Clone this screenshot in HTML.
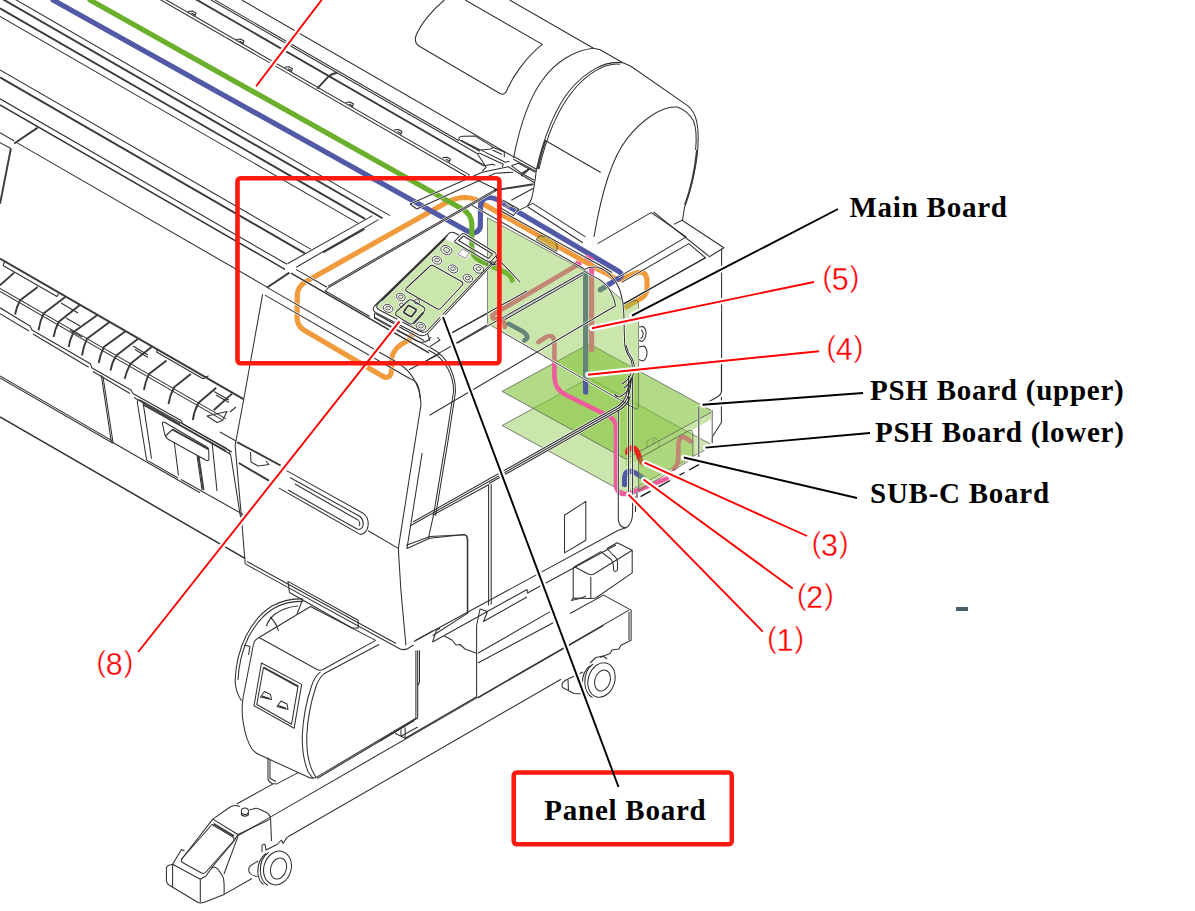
<!DOCTYPE html>
<html>
<head>
<meta charset="utf-8">
<title>Board layout</title>
<style>
html,body{margin:0;padding:0;background:#fff;}
body{width:1195px;height:911px;overflow:hidden;position:relative;}
svg{position:absolute;left:0;top:0;display:block;}
.lbl{font-family:"Liberation Serif",serif;font-weight:bold;font-size:29px;fill:#000;letter-spacing:0.75px;}
.num{font-family:"Liberation Sans",sans-serif;font-size:30px;fill:#ff0000;stroke:#fff;stroke-width:0.55px;}
.num .d{font-size:30.5px;stroke-width:0.3px;}
.art{fill:none;stroke:#303030;stroke-width:1.05;stroke-linecap:butt;stroke-linejoin:round;}
.art .t{stroke-width:1.9;stroke:#3a3a3a;}
.art .w{fill:#fff;}
.hal{fill:none;stroke-linecap:butt;stroke-linejoin:round;}
.hal *{stroke:#fff !important;stroke-width:2.2px !important;fill:none !important;}
.hal .t{stroke-width:3.1px !important;}
.cab{fill:none;stroke-width:5.2;stroke-linecap:round;stroke-linejoin:round;}
.halo{fill:none;stroke:#fff;stroke-width:6;stroke-linecap:round;}
.red{fill:none;stroke:#ff0000;stroke-width:1.9;}
.blk{fill:none;stroke:#000;stroke-width:1.9;}
</style>
</head>
<body>
<svg width="1195" height="911" viewBox="0 0 1195 911">
<rect x="0" y="0" width="1195" height="911" fill="#ffffff"/>
<!-- PSH boards (horizontal) -->
<g fill="#84c43c" stroke="#565a52" stroke-opacity="0.85" stroke-width="0.9" transform="translate(-1,1.1)">
<path fill-opacity="0.42" d="M503.1 424.4 L590.2 376.8 L713.9 444.4 L626.8 492.1 Z"/>
<path fill-opacity="0.45" stroke="none" d="M626.8 458 L713.9 410.3 L713.9 417.5 L626.8 465.5 Z"/>
<path fill-opacity="0.62" d="M503.1 390.3 L590.2 342.7 L713.9 410.3 L626.8 458 Z"/>
<path fill="none" stroke-opacity="0.5" stroke-width="0.7" d="M648 440 L655 436.5 L660 439.5 M648 440 L648 447 M655 436.5 L655 443 M660 439.5 L660 446"/>
</g>
<!-- Panel board fill -->
<g stroke="none">
<path fill="#82c33c" fill-opacity="0.42" d="M445.7 239.5 L494.5 261.5 L427 332.5 Q424.5 334 421.5 332.5 L378.5 308.5 Q376.5 306.5 378 304.5 Z"/>
<path fill="#fff" d="M455 240.8 L461.8 234 Q463 233 465 234 L495 252.5 Q497 254.5 495.9 256 L491 261.5 Q489.5 262.5 487.5 261.5 L456 243 Q454 242 455 240.8 Z"/>
<path fill="#fff" d="M462.4 248.8 L469.8 252.8 L465.1 258.2 L457.7 254.1 Z"/>
</g>
<g class="cab">
<!-- orange -->
<path stroke="#f19b3d" d="M413 333 L409 340 Q398 345.5 395 350.5 Q391.5 355 391.5 362 L391.5 371 Q390.5 379.5 383 376.5 L303 329.5 Q297.5 325.5 297 318 L297.3 294 Q298 286 306.5 281.2 L446 202.7 Q455 197.5 466 197.5 Q476.5 198 484.5 204.8 L596.2 268.1 L610.3 275.5 Q616.5 281 622 279 L635.4 273.2 Q646 269.5 647 280 L647 289.2 Q646.5 295.5 640 299 L625.4 307.3"/>
<!-- blue -->
<path stroke="#5259a7" d="M53 0 L467.1 230.9 Q477 236 480.3 227 L480.5 207 Q480.8 197.6 489 197.5 Q493.5 197.5 497.5 199.8 L618.5 271.2 Q624 274.5 620 277.5 L600.3 289.7"/>
<!-- green -->
<path stroke="#6ab02c" d="M90 0 L463.1 209.5 Q471.5 214.5 471.8 224 L471.8 247 Q472 256.5 480 260.5 L505.6 272.6 Q511.5 276 512.2 280.3"/>
<!-- pink (5)/(4) group -->
<path stroke="#ee5c9d" stroke-linecap="butt" d="M585.5 256.5 L592.8 260.5"/>
<path stroke="#ee5c9d" stroke-linecap="butt" stroke-width="3.5" d="M575.3 262 L581 265"/>
<path stroke="#ee5c9d" d="M591.6 270 L591.6 349.4"/>
<path stroke="#ee5c9d" stroke-width="4.8" d="M579 264 L495.1 313.3 Q490 316.5 494.5 318.8 L500 319.5 Q504.9 320.5 504.9 326.8"/>
<!-- blue (4) vertical -->
<path stroke="#5259a7" d="M585.6 273 L585.6 392"/>
<path stroke="#5259a7" stroke-width="2.6" d="M582.4 274.1 L504 317.5"/>
<path stroke="#5259a7" stroke-width="4.6" d="M508.6 323.8 L522 331 Q528 334.5 527.2 338 L524.4 340.4"/>
<!-- pink (1) -->
<path stroke="#ee5c9d" stroke-width="4.6" d="M538.4 342 L546.2 337 Q553.7 333.5 554.4 342 L554.4 376.8 Q555 389.5 565.5 394.8 L608 415.8 Q615.8 419.5 616 428 L616 484.6 Q616.5 494 625 494 Q628.5 494 632 492.6 L666.7 478.6"/>
<!-- pink on sub-c -->
<path stroke="#ee5c9d" stroke-width="4.6" d="M673.8 468.6 Q677.8 465 678 460.5 L678.5 443 Q679.5 436 684.5 437.2 L690.8 441.5"/>
<!-- red (3) hook -->
<path stroke="#e8251c" d="M627.6 452.5 Q628 447.5 632.5 447.6 Q637.5 448.5 639.6 458.5 Q640.5 461.5 643.6 463.6"/>
<!-- blue (2) hook -->
<path stroke="#5259a7" d="M624.6 484.6 L624.6 477.5 Q625 471 631 471.2 Q635.5 472 643.6 478.6"/>
</g>
<!-- Main board overlay + SUB-C -->
<g fill="#82c33c" fill-opacity="0.42" stroke="#565a52" stroke-opacity="0.8" stroke-width="0.9">
<path d="M487.5 217.7 L585 271 Q600 279.5 608 287.5 Q616.5 295 621.5 299.5 L624 304 L634 300.5 Q638.4 299.5 638.6 304 L638.6 406.5 Q638 410.5 634.5 408.5 L487.5 323.4 Z"/>
<path d="M638.6 458.5 L688 431 Q692.9 428.6 692.9 434 L692.9 458.5 L638.6 490.7 Z"/>
</g>
<!-- clamp on orange cable -->
<path fill="#c9a83a" fill-opacity="0.75" stroke="#3a3a3a" stroke-width="0.8" d="M536.3 239.8 Q538.5 234.3 543 236.3 Q545.5 234.8 548.5 238 Q551.5 237.3 554 241.3 Q558.3 243 557 250 L556.5 251.5 Z"/>
<g class="hal">
<path d="M0.0 -9.4 L390.0 215.6"/>
<path class="t" d="M0.0 -2.4 L382.5 218.3"/>
<path class="t" d="M0.0 8.3 L365.0 218.9"/>
<path d="M0.0 16.5 L358.0 223.1"/>
<path d="M0.0 70.0 L311.0 249.4"/>
<path class="t" d="M0.0 77.4 L305.0 253.4"/>
<path d="M0.0 98.8 L287.0 264.3"/>
<path stroke-width="1.4" d="M0.0 104.9 L285.0 269.3"/>
<path d="M287.5 263.8 L372.5 215.6"/>
<path d="M296.2 267.2 L378.5 219.6"/>
<path class="t" d="M323 252.4 L364.5 229"/>
<path d="M241.8 0.0 L514.0 157.1"/>
<path d="M215.0 0.1 L459.0 140.8"/>
<path d="M211.0 0.0 L477.5 153.8"/>
<path class="t" d="M195.7 -0.8 L484.2 165.7"/>
<path d="M165.0 -0.8 L469.5 174.9"/>
<path d="M158.6 -1.3 L467.0 176.7"/>
<path class="t" d="M317.2 88.7 L328.9 76.2 Q332 73.5 337.2 72.8"/>
<path d="M236 39.5 L240.5 39 L244 41 L242.5 44.5 M239.5 41 L243 43"/>
<path d="M284.5 67.3 L289 66.8 L292.5 68.8 L291 72.3 M288 68.8 L291.5 70.8"/>
<path d="M345.6 102.5 L350 102 L353.5 104 L352 107.5 M349 104 L352.5 106"/>
<path d="M394 130 L398.5 129.5 L402 131.5 L400.5 135 M397.5 131.5 L401 133.5"/>
<path d="M442.5 157.8 L447 157.3 L450.5 159.3 L449 162.8 M446 159.3 L449.5 161.3"/>
<path d="M96 -40 L100 -41"/>
<path d="M188 11.5 L192.5 11 L196 13 L194.5 16.5 M191.5 13 L195 15"/>
<path d="M459.1 139.6 L459.1 137.6 Q460 136.5 463 136.3 L475.2 136.1 L492.3 146.6 Q493.5 148 490.3 149.1 L481.2 150.1 Z"/>
<path class="t" d="M461 140.5 L480 151"/>
<path d="M481.2 150.1 L505.3 162.2 L509.5 161.2"/>
<path d="M492.3 147.1 L504.3 152.1 L504.3 157.2"/>
<path d="M479.2 153.1 L503.3 164.2 L502.3 167.2"/>
<path d="M477.5 154 L479.2 153.1 M477.5 154 L486.2 167.2 L482.2 171.2"/>
<path d="M484.2 165.7 L492.3 164.2 L495.3 165.2"/>
<path d="M492.5 150 L502 154.5"/>
<path d="M513.3 156.2 L536.4 169.2 M513.3 159.2 L536.4 171.4"/>
<path d="M511.3 165.7 L518.4 163.2 L535.4 172.2 M511.3 165.7 L521.4 173.2 L530.4 168.2 M521.4 173.2 L534.4 180.3 M521.4 173.2 L521.8 176.5"/>
<path class="t" d="M523.5 173.8 L529.5 168.5"/>
<path d="M410.1 204 L482.2 172.2 L508.3 166.7 L534.4 182.8"/>
<path d="M416.8 209 L495.3 173.2 L513.3 172.2"/>
<path d="M410.1 204 L416.8 209"/>
<path class="t" d="M494.3 190.3 L533.4 184.3"/>
<path d="M511.3 200.3 L533.4 188.3"/>
<path d="M468.2 175.7 L496.3 189.3"/>
</g>
<g class="hal">
<path d="M444.4 0 C432 10 420 25 415.9 36 Q414 42.5 418.5 45.7 L500 93.5 Q504.5 95.5 506.5 91 C512 78 525 58 542.3 44.4 L465.3 0"/>
<path d="M509.6 0 L593.5 48.2 Q597 49 600.2 49.7 L622.8 62.8 Q628 64.5 632 67 L687.2 105.4 Q694.5 111 696.8 122 Q699.5 134 697 157 Q693 185 684.5 207.5 L682.5 220"/>
<path d="M593.5 48.2 C575 50 555 62 542.3 80.3 C530 97 520 125 513.5 158"/>
<path d="M622.8 62.8 C605 60 585 72 570 90 C555 108 543 140 536.5 169 Q534 190 531.5 199 Q530 203 527.3 206"/>
<path d="M620 64.2 C604 62.5 586 74.5 572 92 C557 111 545.5 141 539 169"/>
<path class="t" d="M545.2 141 Q540 156 537.7 169"/>
<path d="M677.2 107.1 C660 106 640 122 626.9 138.9 C612 158 601 195 594 237"/>
<path d="M677.2 107.1 Q688 111 693.5 121 Q697.5 131 695.6 150"/>
<path class="t" d="M697 150 Q694 180 685 205"/>
<path d="M544.9 140.3 L600.8 172.5"/>
<path d="M597.6 243.6 L651.1 212.6 L686.3 236.9 L618.5 277.1"/>
<path d="M653.5 212 L708.9 256.2"/>
<path d="M673.7 224.4 L682.1 220.2 L723.9 247.8 L708.9 257"/>
<path d="M621.8 282.4 L688.8 243.6 L705.5 257.8 L623.5 303.8"/>
<path d="M721.6 248.6 L721.6 392"/>
</g>
<g class="hal">
<path d="M0 132.6 L14.2 141"/>
<path d="M0 142.7 L10.9 148.5"/>
<path class="t" d="M14.2 143.5 L37.7 127.6"/>
<path class="t" d="M10.9 148.5 L0 203.8"/>
<path d="M16.7 142.6 L268.0 287.6"/>
<path class="t" d="M0.0 258.6 L243.5 399.1"/>
<path d="M3 265.5 L57 296.5 L58.5 293.5"/>
<path d="M3 265.5 L4.5 262"/>
<path d="M156.5 352 L203 378.8 L208.5 375.8"/>
<path d="M156.5 352 L158 349"/>
<path d="M0.0 288.5 L226.0 418.9"/>
<path d="M0.0 291.5 L222.0 419.6"/>
<path d="M0 307.8 L30 326 L32 330 L90.4 363.8 L92 368 L131 390 L133 393.5 L181 420.5 L183 424 L232 452"/>
<path d="M0 313.6 L29 331 M33 334 L88.7 367.2 M93 371.5 L130 393.5 M134 397.5 L180 424 M185 428 L230 454"/>
<path class="t" d="M14.2 272.6 L0 285.2"/>
<path class="t" d="M37.7 286.9 L20.1 300.3 Q16.5 307 15.1 314.5"/>
<path class="t" d="M65.3 296.9 L43.5 313.6 Q40 321 38.5 330.4"/>
<path class="t" d="M79.5 305.3 L58.6 322 Q55 329 53.6 337"/>
<path class="t" d="M97.1 315.3 L73.6 332 Q70 339 68.6 347.1"/>
<path class="t" d="M109.6 322 L87 338.7 Q83.5 346 82 355.5"/>
<path class="t" d="M125.5 331.2 L103.8 347.1 Q100 355 98.7 363"/>
<path class="t" d="M138.1 338.7 L116.3 355.5 Q112 362 110.5 370.5"/>
<path class="t" d="M151.5 347.1 L130.5 363.8 Q126.5 371 124.7 378.9"/>
<path class="t" d="M166.5 360.5 L149 373.9 Q145.5 381 143.9 390"/>
<path class="t" d="M190.8 373.9 L174.1 387.3 Q170 395 168.5 404"/>
<path class="t" d="M216.2 387.7 L198.6 402.7 Q194 411 192.8 420"/>
<path class="t" d="M232.1 393.6 L213.7 410.3"/>
<path d="M61 303 L78 313 M66 318 L80 326 M70 330 L82 337"/>
<path d="M133 346 L148 355 M135 349.5 L148 357.5"/>
<path d="M214 391.5 L229 400 M216 395 L229 402.5"/>
<path d="M207 416 L227 411.5 L222.5 420.5 L217 422.5 Z"/>
<path d="M230 412 L236 407"/>
<path d="M0.0 376.0 L112.0 440.6"/>
<path d="M0.0 378.0 L113.0 443.2"/>
<path d="M112.0 442.0 L200.0 492.8"/>
<path stroke-width="1.5" d="M0.0 416.9 L245.0 558.3"/>
<path d="M101.3 375.1 L111.3 442 M103 376.5 L113 442.5"/>
<path d="M140 400 Q137 399.5 137.4 403 L146.7 460.5"/>
<path d="M143.1 402.7 L151.5 458.7"/>
<path d="M140 400 L227.1 448.8 Q230 451 230.8 455.5 L240.5 517"/>
<path class="t" d="M143 404.5 L226 451"/>
<path d="M147.3 460.4 L178 478 M181 479.5 L245 515.5"/>
<path d="M164.5 422.3 Q162 421.5 162.6 424.5 L165 435.3 Q166 438 168.5 439.5 L206 460.3 Q209.2 461.5 208.9 458 L208.7 450 Q208.5 447.5 206 446.5 Z"/>
<path d="M165.5 436 L172.5 429.5 L208.7 449.5"/>
<path class="t" d="M172.5 429.5 L208 449"/>
<path d="M174.3 442.5 L178.5 475.5"/>
<path d="M197 455.4 L202 490"/>
<path class="t" d="M198.5 456 L203.5 490"/>
<path d="M212 442 L217 491"/>
<path class="t" d="M237.1 442.1 L280.6 465.5"/>
<path class="t" d="M238.8 463 L268.9 480.6"/>
<path d="M250.5 452 L251 462 L258 466 L269 464.5 L266 461"/>
</g>
<g class="hal">
<path class="t" d="M266.8 287.7 L289.4 272.6"/>
<path d="M296.0 269.4 L327.0 287.3"/>
<path stroke-width="1.4" d="M291.0 273.2 L429.0 352.8"/>
<path d="M325.4 291.0 L369.7 316.5"/>
<path d="M325 291.5 L329 287"/>
<path d="M328.0 286.1 L497.0 188.6"/>
<path d="M329.0 287.2 L497.5 189.9"/>
<path d="M268.0 287.9 L396.0 361.8 Q410 370 416 383 Q421 394 420.9 405.3 L410.3 472 L398.3 548.4"/>
<path d="M265.0 295.1 L410.0 378.8 Q420 381 419.9 398"/>
<path d="M262.6 294.4 L243.8 399 L235.1 445.4 L241.3 515.7 L245.2 563.9"/>
<path d="M428.4 350 Q441 356 447.5 368 Q454 380 453.5 392 L446 440.4 L433.4 515.7 L428.4 538.3"/>
<path d="M430 347.5 Q443.5 354 449.8 367 Q456 380 455.4 392.5 L448 441 L435.5 516"/>
<path d="M373.9 316.9 L429.1 347.1"/>
<path d="M375.5 313.5 L424 340.5"/>
<path d="M409 369.7 L440 353.8"/>
<path d="M429.1 347.1 L440 340 L437 337"/>
<path d="M429.6 415.3 L615.6 305.7"/>
<path d="M422.1 453 L407 548.4 L429.6 538.3 L464.8 534.6 Q467.3 536 467.3 540.9 L467.3 613"/>
<path d="M425.9 360.9 L487 325"/>
<path d="M451 333.2 L487 313.5"/>
<path d="M286.5 470.6 L363.1 513.2 Q369 518 368.1 525.8 Q367 533 360.6 534.6 L279 488.1"/>
<path d="M290 477.5 L360 516.5 Q364 520 363 525.5 Q361.5 530.5 357 529 L288 490"/>
<path d="M295 484 L358 520 Q361 523 359 526"/>
<path d="M368.1 530.8 L398.3 548.4"/>
<path d="M220 432 L236 441"/>
</g>
<g class="hal">
<path d="M245.2 563.9 L398.3 648 Q403 651 408 648.5 L413.5 645"/>
<path d="M247 561.5 L396 643.5"/>
<path d="M398.3 548.4 L400.9 590.2 L405.9 645.4"/>
<path d="M287.9 581.4 L358.2 620.3 L358.2 627.9 L352 628 L289.5 592.5 Z"/>
<path d="M406.3 545.3 L430.1 536.5 L464 534.8 Q467.8 535 467.8 540 L467.8 613.1 L432.6 635.7"/>
<path d="M432.6 515.2 L489 484.5"/>
<path d="M488.6 485 L488.6 605.6 M491.2 484 L491.2 604.5"/>
<path d="M415.1 640.7 L618.4 530.3"/>
<path d="M432.6 642 L527 589.5 L527.5 593 L615.9 545"/>
<path d="M432.6 642 L436.5 630 L440 628.5"/>
<path d="M618.3 410 L618.3 520.2 Q619.5 528 626 527.7"/>
<path d="M628.6 388 L628.6 497 M632.6 388 L632.6 512.7 Q632.5 524 626 527.7 L618.4 530.3"/>
<path d="M632.6 497 L635.5 497 L635.5 512"/>
<path d="M564.5 515.2 L585.8 501.4 L585.8 540.3 L564.5 552.9 Z"/>
<path d="M574.5 566.7 L600.9 551.6 M607 548.5 L617.2 542.8 L632.2 550.3 L632.2 572.9 L595.8 598 L590.8 598.5 L573.2 598 L571.5 600.5"/>
<path d="M574.5 566.7 Q573 567.5 573.2 570 L573.2 598"/>
<path d="M574.5 566.7 L588 574 Q590.8 575.4 594 574 L632.2 550.3"/>
<path d="M590.8 577 L590.8 598.5"/>
<path d="M600.9 551.6 L611 559.5 Q613.5 562 613.5 566 L613.5 570 Q615 573 617.5 570 L617.5 562 Q617 557.5 613 555 L607 548.5"/>
<path d="M476.6 625.5 L476.6 697"/>
<path d="M476.6 625.5 L480 609 L487.5 611.5 L483.5 621.5 L527 597"/>
<path d="M443.9 635.7 L452 640 L456 645 L460 644.5 L465 649 L476.6 653.3"/>
<path d="M477.8 653.3 L550.7 611.4"/>
<path d="M477.8 663 L553.2 622.7"/>
<path d="M477.8 652.8 L603.4 595.5" stroke="none"/>
<path d="M417.7 650.3 L417.7 718 M419.5 650.3 L419.5 682 L417.7 686"/>
<path d="M413.9 641.5 L432.6 631"/>
<path d="M237.0 836.3 L629.0 610.1"/>
<path d="M288.0 836.8 L561.0 679.3"/>
<path d="M477.9 698 L603.5 625.5"/>
<path d="M570 613.5 L603.5 595.1 L631.1 610.1 L631.1 640.3 L621 645.3 L619 649 L612 650 L610 653.5 L600 657.5"/>
<path d="M629 612 L629 640"/>
<path d="M571 600.5 L580 598.5 L586 596"/>
<path d="M395.1 733.2 L405.1 738.2 L476.7 696.7"/>
<path d="M401 729.5 L401 736 M405.1 727.5 L405.1 738.2"/>
<path d="M380 741 L417.7 718"/>
<ellipse cx="601.5" cy="680" rx="13.2" ry="17.6" transform="rotate(18 601.5 680)"/>
<ellipse cx="602.5" cy="680.5" rx="7.6" ry="10.8" transform="rotate(18 602.5 680.5)"/>
<path d="M593 664 Q584.5 670 584.8 683 Q585.5 694 592.5 697.5"/>
<path d="M590.5 665.5 Q582 671.5 582.3 684 Q583 693.5 588 696.5"/>
<path d="M583 672 L565 680.5 Q560.5 684 562.5 687.5 L574 693.5 L583.5 694"/>
<path d="M568 680 L568.5 690.5"/>
<path d="M590 663 L596 657.5 L603 656 L607 659"/>
</g>
<g class="hal">
<path d="M302.9 599 Q287 598 272 606 Q256 616 246 636 Q236 656 235.1 680.6 Q235.5 692 241.4 700.7"/>
<path d="M302.9 601.5 Q288 600.5 273.5 608.5 Q258.5 618 248.5 637 Q239 657 238 680"/>
<path d="M298 606 Q285 607 275 614 Q268 620 266.5 626"/>
<path d="M302.9 599 L297 614"/>
<path d="M270 617 Q276 622 278.5 631"/>
<path d="M244 645 L250 646.5 L248.5 655"/>
<path d="M259 637.5 L310.5 606.5 M310.5 606.5 L375.7 640.4"/>
<path d="M259 637.5 L317 669.5 Q320 671 323 669.5 L375.7 640.4"/>
<path d="M323.5 674 L379 644.5"/>
<path d="M259 637.5 Q255 639 253.5 644 L243 698 Q241 712 243.5 724 Q246 740 252 749 Q254.5 752.5 260 755 L308 777 Q312 779 315.8 777.6"/>
<path d="M320.5 671.8 Q315 676 311.5 686 Q303.5 710 302.3 735 Q301.8 757 308.2 772 L313.2 778.5"/>
<path d="M323.5 674 Q318.5 679 315.5 688 Q308 711 306.8 735 Q306.2 757 312 770 L316 777.5"/>
<path d="M415.9 650.5 L415.9 718.3 L315.8 777.6"/>
<path d="M414 720.8 L317 778.5"/>
<path d="M261.5 663 L301.7 684.4 L294.1 728.3 L254 705.7 Z"/>
<path d="M263.5 667.5 L298 686.3 L291.5 724.3 L256.8 704.5 Z"/>
<path class="t" d="M263.5 667.5 L298 686.3"/>
<path d="M260.5 697 L264.5 691.5 L270.5 694.5 L271.5 699.5 Z M262 696 L270 698.5"/>
<path d="M277 706.5 L281 701 L287 704 L288 709.5 Z M278.5 705.5 L286.5 708.5"/>
<path d="M268 757.6 L268 778.9 Q268.5 782 272 783.5 L276.8 783.9 L298.2 772.6"/>
<path d="M270 759 L270 778.5 L276 781.5"/>
<path d="M236.7 804 L273.1 783.9"/>
<path d="M401.1 736.2 L417.7 727"/>
<path d="M212.8 819.1 L228 808.5 Q232 805 236 805.5 L240 806.5 M249.5 810 L253 809 Q256 807.5 259 809 L266.5 812.5 Q270.5 815 270.6 819.1 L271.5 841"/>
<ellipse cx="244.9" cy="811.3" rx="3.6" ry="3.3"/>
<path d="M241.5 812.5 L241.5 815 Q245 817.5 248.3 815 L248.3 812.5"/>
<path d="M212.8 819.1 L237.9 834.5 L270.6 819.1"/>
<path d="M212.8 819.1 L181.4 859.5 M237.9 834.5 Q236 838 234 841 L211 868.5"/>
<path d="M212 824.5 L233 837 Q235 838.5 233.5 841 L205.5 872.5 Q204 874 201.5 873 L182.5 862.5 Q180.5 861 182 858.5 Z"/>
<path class="t" d="M213.5 823.8 L234 836"/>
<path d="M172.6 864.3 L181.5 849.5 L184.5 851"/>
<path d="M166.4 869.3 Q166 866 169 865.2 L172.6 864.3 L200.3 879.3 L206 876 Q212 866.5 214.5 867 Q218 868 222.9 876.8 Q224.5 880 224.1 894.4 L205 902 Q200.5 903.5 198 902.5 L169 885 Q166 883 166.4 879 Z"/>
<path d="M172.6 864.3 L172.6 887"/>
<path d="M200.3 879.3 L200.3 902.5"/>
<path d="M224.1 894.4 L252 878.5"/>
<path d="M237.9 836.6 L224 874"/>
<ellipse cx="277.5" cy="868" rx="13.6" ry="17.2" transform="rotate(18 277.5 868)"/>
<ellipse cx="278.5" cy="868.5" rx="7.8" ry="10.8" transform="rotate(18 278.5 868.5)"/>
<path d="M268.5 852.5 Q260 858 260.3 871 Q261 882 268 885.5"/>
<path d="M266 853.5 Q257.5 859.5 257.8 872 Q258.5 881.5 263.5 884.5"/>
<path d="M258 861 L250 866 Q247.5 870 250 873.5 Q252.5 876 257.5 876.5"/>
<path d="M262 852 L262 846 Q262.5 843.5 265 844.5 L266 850 L277 844.5 L281.5 840 L283 843.5"/>
<path d="M283 843.5 L287.5 836.6"/>
</g>
<g class="hal">
<path d="M583.9 269.6 Q590 266 597.5 267.3 Q606 270 611 275.6 Q617 282 620.5 292 Q623.5 302 623.8 313.3 L624.6 343.4"/>
<path d="M583.9 271.1 L600.5 280.1 Q607.5 285 611 292.2 Q614.5 299 615.6 305.7"/>
<path d="M583.5 274.6 L505 319.5"/>
<path d="M623.4 304.3 L660 283.2 L705.5 257.8"/>
<path stroke-width="0.9" d="M501.5 331.5 L634 408"/>
<path d="M532.8 203.4 L585.5 236.9"/>
<path d="M527.6 206.7 L582.8 242.7"/>
<path d="M472 205.4 L584 268.8"/>
<path d="M498 209.3 L600 265.3 L612 272.5"/>
<path d="M517.2 211.1 L532.8 203.4"/>
<path d="M498 206.5 L503.5 200.5 L518.5 209 L513.5 215.5 Z"/>
<path d="M505 205 L510 207.5 M508 203.5 L513 206.5"/>
<path d="M624.6 343.4 Q625.5 352 630 358 Q633.5 364 631.5 372 Q629 380 622 384"/>
<path d="M626 345 Q627.5 352 632 358.5 Q636 366 633 375 Q630 384 624 388"/>
<path d="M628.6 376 L628.6 388 M632.6 376 L632.6 388"/>
<path d="M410.8 525.5 L618.5 408.3 Q626 403 628.5 395 Q630.8 388 631.3 378"/>
<path d="M413 522 L617 406.8 Q624 402 626.5 394.5 Q628.5 388 629 380"/>
<path d="M489 483.5 L619.5 410 Q627.5 405 630.3 396.5"/>
<path d="M614.5 393.5 Q616 397.5 620 396.5 Q626.5 394 629.5 386.5 Q631 382 631.3 378"/>
<path d="M638.6 327 L643 326.5 Q646.5 329 646 334 Q645.5 339.5 642 341.5 L638.6 340"/>
<path d="M638.6 347 L644 346 Q647.5 349 647 354 Q646.5 359 643 361 L638.6 359.5"/>
<path d="M641 330 Q643.5 331 643 335 Q642.5 338 640.5 338.5"/>
<path d="M721.4 365 L721.4 391.8 Q721 394.5 718 396.5 L707.5 402.5"/>
<path d="M721.4 397 L721.4 422.5 L712.2 437 L712.2 443"/>
<path d="M698.8 406.9 L698.8 457.1 M700.3 406.9 Q700.5 405 702 404.5"/>
<path d="M712.2 410 L712.2 436" stroke="#666"/>
<path stroke-width="1.4" stroke="#111" d="M640.6 496.7 L650.5 491.2 M655 488.8 L670 480.5 M675 477.7 L684.5 472.5 M689 470 L698.9 464.6"/>
<path d="M637 491.5 L637 498"/>
</g>
<g class="hal" stroke-width="0.75" stroke="#3c3c3c">
<path d="M449.7 232.7 L374.5 306 Q371.5 309.5 375.5 312.5 L419 335 Q424 337 427.5 333.5 L495.5 261"/>
<path d="M447.5 235.5 L377.5 304.5 Q375.5 307.5 378.5 309.5 L420.5 331.5 Q424.5 333.5 427.5 330.5 L493 261.5"/>
<path d="M445.5 238.5 L382 300.5"/>
<path d="M449.7 232.7 Q452 231.5 455 233 L459 235.3"/>
<path d="M374.5 313 L374.5 318 L384 323.5 L418 341.5 Q424 343.5 428.5 340 L431 337"/>
<path d="M427.5 333.5 L430 341"/>
<path d="M455 240.8 L461.8 234 Q463 233 465 234 L495 252.5 Q497 254.5 495.9 256 L491 261.5 Q489.5 262.5 487.5 261.5 L456 243 Q454 242 455 240.8 Z"/>
<path d="M458.5 240.5 L463.5 236 L492.5 254 L488.5 258.5 Z"/>
<path d="M489 262 L493 265 L497.5 260 L496 256"/>
<path stroke-width="0.6" d="M462.4 248.8 L469.8 252.8 L465.1 258.2 L457.7 254.1 Z"/>
<path d="M429.5 266.5 Q431.5 264.5 434 266 L461.5 281.5 Q464 283 462 285.5 L441 308 Q439 310 436.5 308.5 L407 291.5 Q404.5 290 406.5 288 Z"/>
<g stroke-width="0.8">
<ellipse cx="446.4" cy="250.1" rx="5.8" ry="4.4" transform="rotate(25 446.4 250.1)"/>
<ellipse cx="446.6" cy="250" rx="3" ry="2.3" transform="rotate(25 446.6 250)"/>
<ellipse cx="437" cy="260.2" rx="5" ry="3.8" transform="rotate(25 437 260.2)"/>
<ellipse cx="437" cy="260" rx="2.4" ry="1.8"/>
<ellipse cx="453" cy="268.9" rx="5" ry="3.8" transform="rotate(25 453 268.9)"/>
<ellipse cx="453" cy="268.7" rx="2.4" ry="1.8"/>
<ellipse cx="478.5" cy="268.9" rx="5.4" ry="4" transform="rotate(25 478.5 268.9)"/>
<ellipse cx="478.5" cy="268.7" rx="2.4" ry="1.8"/>
<ellipse cx="467.8" cy="278.2" rx="5" ry="3.8" transform="rotate(25 467.8 278.2)"/>
<ellipse cx="467.8" cy="278" rx="2.4" ry="1.8"/>
<ellipse cx="400.8" cy="297" rx="4.6" ry="3.6" transform="rotate(25 400.8 297)"/>
<ellipse cx="400.8" cy="296.8" rx="2.2" ry="1.7"/>
<ellipse cx="388.1" cy="308.4" rx="5" ry="3.8" transform="rotate(25 388.1 308.4)"/>
<ellipse cx="388.1" cy="308.2" rx="2.4" ry="1.8"/>
<ellipse cx="420.9" cy="326.4" rx="5" ry="3.8" transform="rotate(25 420.9 326.4)"/>
<ellipse cx="420.9" cy="326.2" rx="2.4" ry="1.8"/>
<circle cx="417" cy="301.5" r="2.6"/>
<circle cx="401.5" cy="305" r="2"/>
</g>
<path d="M408.5 300.5 Q410.5 299 413 300.5 L423.5 307 Q426 309 424 311.5 L413.5 323 Q411.5 325 409 323.5 L397 316 Q394.5 314 396.5 311.5 Z"/>
<path class="t" stroke-width="1.6" d="M409 305.5 L415.5 309 Q416.5 310 415.8 311.2 L412 316 Q411 317 409.8 316.3 L404.5 313 Q403.3 312 404.3 310.8 L408 305.8 Z"/>
<path class="t" d="M423.5 312.5 L413.5 323.5"/>
<path d="M493 265 L501.5 262.5 L520 282"/>
<path d="M453 332.2 L527 291"/>
<path d="M457.1 343.2 L583 272.5"/>
</g>
<g class="art">
<!-- group 1: paper slot lines -->
<path d="M0.0 -9.4 L390.0 215.6"/>
<path class="t" d="M0.0 -2.4 L382.5 218.3"/>
<path class="t" d="M0.0 8.3 L365.0 218.9"/>
<path d="M0.0 16.5 L358.0 223.1"/>
<!-- group 2 -->
<path d="M0.0 70.0 L311.0 249.4"/>
<path class="t" d="M0.0 77.4 L305.0 253.4"/>
<path d="M0.0 98.8 L287.0 264.3"/>
<path stroke-width="1.4" d="M0.0 104.9 L285.0 269.3"/>
<!-- recess end B lines -->
<path d="M287.5 263.8 L372.5 215.6"/>
<path d="M296.2 267.2 L378.5 219.6"/>
<path class="t" d="M323 252.4 L364.5 229"/>
<!-- upper rails -->
<path d="M241.8 0.0 L514.0 157.1"/>
<path d="M215.0 0.1 L459.0 140.8"/>
<path d="M211.0 0.0 L477.5 153.8"/>
<path class="t" d="M195.7 -0.8 L484.2 165.7"/>
<path d="M165.0 -0.8 L469.5 174.9"/>
<path d="M158.6 -1.3 L467.0 176.7"/>
<path class="t" d="M317.2 88.7 L328.9 76.2 Q332 73.5 337.2 72.8"/>
<!-- tabs on rail 4 -->
<path d="M236 39.5 L240.5 39 L244 41 L242.5 44.5 M239.5 41 L243 43"/>
<path d="M284.5 67.3 L289 66.8 L292.5 68.8 L291 72.3 M288 68.8 L291.5 70.8"/>
<path d="M345.6 102.5 L350 102 L353.5 104 L352 107.5 M349 104 L352.5 106"/>
<path d="M394 130 L398.5 129.5 L402 131.5 L400.5 135 M397.5 131.5 L401 133.5"/>
<path d="M442.5 157.8 L447 157.3 L450.5 159.3 L449 162.8 M446 159.3 L449.5 161.3"/>
<path d="M96 -40 L100 -41"/>
<path d="M188 11.5 L192.5 11 L196 13 L194.5 16.5 M191.5 13 L195 15"/>
<!-- block at end of rails -->
<path d="M459.1 139.6 L459.1 137.6 Q460 136.5 463 136.3 L475.2 136.1 L492.3 146.6 Q493.5 148 490.3 149.1 L481.2 150.1 Z"/>
<path class="t" d="M461 140.5 L480 151"/>
<path d="M481.2 150.1 L505.3 162.2 L509.5 161.2"/>
<path d="M492.3 147.1 L504.3 152.1 L504.3 157.2"/>
<path d="M479.2 153.1 L503.3 164.2 L502.3 167.2"/>
<path d="M477.5 154 L479.2 153.1 M477.5 154 L486.2 167.2 L482.2 171.2"/>
<path d="M484.2 165.7 L492.3 164.2 L495.3 165.2"/>
<path d="M492.5 150 L502 154.5"/>
<!-- rail 1 continuation -->
<path d="M513.3 156.2 L536.4 169.2 M513.3 159.2 L536.4 171.4"/>
<!-- small block right -->
<path d="M511.3 165.7 L518.4 163.2 L535.4 172.2 M511.3 165.7 L521.4 173.2 L530.4 168.2 M521.4 173.2 L534.4 180.3 M521.4 173.2 L521.8 176.5"/>
<path class="t" d="M523.5 173.8 L529.5 168.5"/>
<!-- triangle cover lines -->
<path d="M410.1 204 L482.2 172.2 L508.3 166.7 L534.4 182.8"/>
<path d="M416.8 209 L495.3 173.2 L513.3 172.2"/>
<path d="M410.1 204 L416.8 209"/>
<path class="t" d="M494.3 190.3 L533.4 184.3"/>
<path d="M511.3 200.3 L533.4 188.3"/>
<path d="M468.2 175.7 L496.3 189.3"/>
</g>
<g class="art">
<!-- roll cover window -->
<path d="M444.4 0 C432 10 420 25 415.9 36 Q414 42.5 418.5 45.7 L500 93.5 Q504.5 95.5 506.5 91 C512 78 525 58 542.3 44.4 L465.3 0"/>
<!-- top silhouette -->
<path d="M509.6 0 L593.5 48.2 Q597 49 600.2 49.7 L622.8 62.8 Q628 64.5 632 67 L687.2 105.4 Q694.5 111 696.8 122 Q699.5 134 697 157 Q693 185 684.5 207.5 L682.5 220"/>
<!-- cap curve 1 -->
<path d="M593.5 48.2 C575 50 555 62 542.3 80.3 C530 97 520 125 513.5 158"/>
<!-- cap curve 2 (double) -->
<path d="M622.8 62.8 C605 60 585 72 570 90 C555 108 543 140 536.5 169 Q534 190 531.5 199 Q530 203 527.3 206"/>
<path d="M620 64.2 C604 62.5 586 74.5 572 92 C557 111 545.5 141 539 169"/>
<path class="t" d="M545.2 141 Q540 156 537.7 169"/>
<!-- cap end ellipse -->
<path d="M677.2 107.1 C660 106 640 122 626.9 138.9 C612 158 601 195 594 237"/>
<path d="M677.2 107.1 Q688 111 693.5 121 Q697.5 131 695.6 150"/>
<path class="t" d="M697 150 Q694 180 685 205"/>
<!-- line inside cap -->
<path d="M544.9 140.3 L600.8 172.5"/>
<!-- rear box -->
<path d="M597.6 243.6 L651.1 212.6 L686.3 236.9 L618.5 277.1"/>
<path d="M653.5 212 L708.9 256.2"/>
<path d="M673.7 224.4 L682.1 220.2 L723.9 247.8 L708.9 257"/>
<path d="M621.8 282.4 L688.8 243.6 L705.5 257.8 L623.5 303.8"/>
<path d="M721.6 248.6 L721.6 392"/>
</g>
<g class="art">
<!-- notch at far left -->
<path d="M0 132.6 L14.2 141"/>
<path d="M0 142.7 L10.9 148.5"/>
<path class="t" d="M14.2 143.5 L37.7 127.6"/>
<path class="t" d="M10.9 148.5 L0 203.8"/>
<path d="M16.7 142.6 L268.0 287.6"/>
<!-- paper guide: top edge -->
<path class="t" d="M0.0 258.6 L243.5 399.1"/>
<path d="M3 265.5 L57 296.5 L58.5 293.5"/>
<path d="M3 265.5 L4.5 262"/>
<path d="M156.5 352 L203 378.8 L208.5 375.8"/>
<path d="M156.5 352 L158 349"/>
<!-- mid lines -->
<path d="M0.0 288.5 L226.0 418.9"/>
<path d="M0.0 291.5 L222.0 419.6"/>
<!-- lower edge -->
<path d="M0 307.8 L30 326 L32 330 L90.4 363.8 L92 368 L131 390 L133 393.5 L181 420.5 L183 424 L232 452"/>
<path d="M0 313.6 L29 331 M33 334 L88.7 367.2 M93 371.5 L130 393.5 M134 397.5 L180 424 M185 428 L230 454"/>
<!-- ribs -->
<path class="t" d="M14.2 272.6 L0 285.2"/>
<path class="t" d="M37.7 286.9 L20.1 300.3 Q16.5 307 15.1 314.5"/>
<path class="t" d="M65.3 296.9 L43.5 313.6 Q40 321 38.5 330.4"/>
<path class="t" d="M79.5 305.3 L58.6 322 Q55 329 53.6 337"/>
<path class="t" d="M97.1 315.3 L73.6 332 Q70 339 68.6 347.1"/>
<path class="t" d="M109.6 322 L87 338.7 Q83.5 346 82 355.5"/>
<path class="t" d="M125.5 331.2 L103.8 347.1 Q100 355 98.7 363"/>
<path class="t" d="M138.1 338.7 L116.3 355.5 Q112 362 110.5 370.5"/>
<path class="t" d="M151.5 347.1 L130.5 363.8 Q126.5 371 124.7 378.9"/>
<path class="t" d="M166.5 360.5 L149 373.9 Q145.5 381 143.9 390"/>
<path class="t" d="M190.8 373.9 L174.1 387.3 Q170 395 168.5 404"/>
<path class="t" d="M216.2 387.7 L198.6 402.7 Q194 411 192.8 420"/>
<path class="t" d="M232.1 393.6 L213.7 410.3"/>
<!-- small details in middle of guide -->
<path d="M61 303 L78 313 M66 318 L80 326 M70 330 L82 337"/>
<path d="M133 346 L148 355 M135 349.5 L148 357.5"/>
<path d="M214 391.5 L229 400 M216 395 L229 402.5"/>
<!-- bracket near housing -->
<path d="M207 416 L227 411.5 L222.5 420.5 L217 422.5 Z"/>
<path d="M230 412 L236 407"/>
<!-- lower-left long lines -->
<path d="M0.0 376.0 L112.0 440.6"/>
<path d="M0.0 378.0 L113.0 443.2"/>
<path d="M112.0 442.0 L200.0 492.8"/>
<path stroke-width="1.5" d="M0.0 416.9 L245.0 558.3"/>
<path d="M101.3 375.1 L111.3 442 M103 376.5 L113 442.5"/>
<!-- cover panel -->
<path d="M140 400 Q137 399.5 137.4 403 L146.7 460.5"/>
<path d="M143.1 402.7 L151.5 458.7"/>
<path d="M140 400 L227.1 448.8 Q230 451 230.8 455.5 L240.5 517"/>
<path class="t" d="M143 404.5 L226 451"/>
<path d="M147.3 460.4 L178 478 M181 479.5 L245 515.5"/>
<!-- handle recess -->
<path d="M164.5 422.3 Q162 421.5 162.6 424.5 L165 435.3 Q166 438 168.5 439.5 L206 460.3 Q209.2 461.5 208.9 458 L208.7 450 Q208.5 447.5 206 446.5 Z"/>
<path d="M165.5 436 L172.5 429.5 L208.7 449.5"/>
<path class="t" d="M172.5 429.5 L208 449"/>
<path d="M174.3 442.5 L178.5 475.5"/>
<path d="M197 455.4 L202 490"/>
<path class="t" d="M198.5 456 L203.5 490"/>
<path d="M212 442 L217 491"/>
<!-- right of guide: rails -->
<path class="t" d="M237.1 442.1 L280.6 465.5"/>
<path class="t" d="M238.8 463 L268.9 480.6"/>
<path d="M250.5 452 L251 462 L258 466 L269 464.5 L266 461"/>
</g>
<g class="art">
<!-- notch near recess -->
<path class="t" d="M266.8 287.7 L289.4 272.6"/>
<!-- continuation of g,h after recess -->
<path d="M296.0 269.4 L327.0 287.3"/>
<path stroke-width="1.4" d="M291.0 273.2 L429.0 352.8"/>
<path d="M325.4 291.0 L369.7 316.5"/>
<path d="M325 291.5 L329 287"/>
<!-- long thick B line (rear edge of top cover) -->
<path d="M328.0 286.1 L497.0 188.6"/>
<path d="M329.0 287.2 L497.5 189.9"/>
<!-- front top edge: i continues -->
<path d="M268.0 287.9 L396.0 361.8 Q410 370 416 383 Q421 394 420.9 405.3 L410.3 472 L398.3 548.4"/>
<path d="M265.0 295.1 L410.0 378.8 Q420 381 419.9 398"/>
<!-- housing left edge -->
<path d="M262.6 294.4 L243.8 399 L235.1 445.4 L241.3 515.7 L245.2 563.9"/>
<!-- side curve (double) -->
<path d="M428.4 350 Q441 356 447.5 368 Q454 380 453.5 392 L446 440.4 L433.4 515.7 L428.4 538.3"/>
<path d="M430 347.5 Q443.5 354 449.8 367 Q456 380 455.4 392.5 L448 441 L435.5 516"/>
<!-- lines under panel -->
<path d="M373.9 316.9 L429.1 347.1"/>
<path d="M375.5 313.5 L424 340.5"/>
<path d="M409 369.7 L440 353.8"/>
<path d="M429.1 347.1 L440 340 L437 337"/>
<!-- B lines to the right -->
<path d="M429.6 415.3 L615.6 305.7"/>
<path d="M422.1 453 L407 548.4 L429.6 538.3 L464.8 534.6 Q467.3 536 467.3 540.9 L467.3 613"/>
<path d="M425.9 360.9 L487 325"/>
<path d="M451 333.2 L487 313.5"/>
<!-- front slot -->
<path d="M286.5 470.6 L363.1 513.2 Q369 518 368.1 525.8 Q367 533 360.6 534.6 L279 488.1"/>
<path d="M290 477.5 L360 516.5 Q364 520 363 525.5 Q361.5 530.5 357 529 L288 490"/>
<path d="M295 484 L358 520 Q361 523 359 526"/>
<path d="M368.1 530.8 L398.3 548.4"/>
<path d="M220 432 L236 441"/>
</g>
<g class="art">
<!-- housing bottom edge (front) -->
<path d="M245.2 563.9 L398.3 648 Q403 651 408 648.5 L413.5 645"/>
<path d="M247 561.5 L396 643.5"/>
<path d="M398.3 548.4 L400.9 590.2 L405.9 645.4"/>
<!-- tab under housing -->
<path d="M287.9 581.4 L358.2 620.3 L358.2 627.9 L352 628 L289.5 592.5 Z"/>
<!-- side step shape -->
<path d="M406.3 545.3 L430.1 536.5 L464 534.8 Q467.8 535 467.8 540 L467.8 613.1 L432.6 635.7"/>
<path d="M432.6 515.2 L489 484.5"/>
<path d="M488.6 485 L488.6 605.6 M491.2 484 L491.2 604.5"/>
<!-- housing lower edge B-lines -->
<path d="M415.1 640.7 L618.4 530.3"/>
<path d="M432.6 642 L527 589.5 L527.5 593 L615.9 545"/>
<path d="M432.6 642 L436.5 630 L440 628.5"/>
<!-- right edge of housing -->
<path d="M618.3 410 L618.3 520.2 Q619.5 528 626 527.7"/>
<path d="M628.6 388 L628.6 497 M632.6 388 L632.6 512.7 Q632.5 524 626 527.7 L618.4 530.3"/>
<path d="M632.6 497 L635.5 497 L635.5 512"/>
<!-- small rect on side -->
<path d="M564.5 515.2 L585.8 501.4 L585.8 540.3 L564.5 552.9 Z"/>
<!-- bracket under housing -->
<path d="M574.5 566.7 L600.9 551.6 M607 548.5 L617.2 542.8 L632.2 550.3 L632.2 572.9 L595.8 598 L590.8 598.5 L573.2 598 L571.5 600.5"/>
<path d="M574.5 566.7 Q573 567.5 573.2 570 L573.2 598"/>
<path d="M574.5 566.7 L588 574 Q590.8 575.4 594 574 L632.2 550.3"/>
<path d="M590.8 577 L590.8 598.5"/>
<path d="M600.9 551.6 L611 559.5 Q613.5 562 613.5 566 L613.5 570 Q615 573 617.5 570 L617.5 562 Q617 557.5 613 555 L607 548.5"/>
<!-- stand column box -->
<path d="M476.6 625.5 L476.6 697"/>
<path d="M476.6 625.5 L480 609 L487.5 611.5 L483.5 621.5 L527 597"/>
<path d="M443.9 635.7 L452 640 L456 645 L460 644.5 L465 649 L476.6 653.3"/>
<path d="M477.8 653.3 L550.7 611.4"/>
<path d="M477.8 663 L553.2 622.7"/>
<path d="M477.8 652.8 L603.4 595.5" stroke="none"/>
<path d="M417.7 650.3 L417.7 718 M419.5 650.3 L419.5 682 L417.7 686"/>
<path d="M413.9 641.5 L432.6 631"/>
<!-- beam -->
<path d="M237.0 836.3 L629.0 610.1"/>
<path d="M288.0 836.8 L561.0 679.3"/>
<path d="M477.9 698 L603.5 625.5"/>
<path d="M570 613.5 L603.5 595.1 L631.1 610.1 L631.1 640.3 L621 645.3 L619 649 L612 650 L610 653.5 L600 657.5"/>
<path d="M629 612 L629 640"/>
<path d="M571 600.5 L580 598.5 L586 596"/>
<path d="M395.1 733.2 L405.1 738.2 L476.7 696.7"/>
<path d="M401 729.5 L401 736 M405.1 727.5 L405.1 738.2"/>
<path d="M380 741 L417.7 718"/>
<!-- right caster -->
<ellipse cx="601.5" cy="680" rx="13.2" ry="17.6" transform="rotate(18 601.5 680)"/>
<ellipse cx="602.5" cy="680.5" rx="7.6" ry="10.8" transform="rotate(18 602.5 680.5)"/>
<path d="M593 664 Q584.5 670 584.8 683 Q585.5 694 592.5 697.5"/>
<path d="M590.5 665.5 Q582 671.5 582.3 684 Q583 693.5 588 696.5"/>
<path d="M583 672 L565 680.5 Q560.5 684 562.5 687.5 L574 693.5 L583.5 694"/>
<path d="M568 680 L568.5 690.5"/>
<path d="M590 663 L596 657.5 L603 656 L607 659"/>
</g>
<g class="art">
<!-- back disc arcs -->
<path d="M302.9 599 Q287 598 272 606 Q256 616 246 636 Q236 656 235.1 680.6 Q235.5 692 241.4 700.7"/>
<path d="M302.9 601.5 Q288 600.5 273.5 608.5 Q258.5 618 248.5 637 Q239 657 238 680"/>
<path d="M298 606 Q285 607 275 614 Q268 620 266.5 626"/>
<path d="M302.9 599 L297 614"/>
<path d="M270 617 Q276 622 278.5 631"/>
<path d="M244 645 L250 646.5 L248.5 655"/>
<!-- top face -->
<path d="M259 637.5 L310.5 606.5 M310.5 606.5 L375.7 640.4"/>
<path d="M259 637.5 L317 669.5 Q320 671 323 669.5 L375.7 640.4"/>
<path d="M323.5 674 L379 644.5"/>
<!-- front face -->
<path d="M259 637.5 Q255 639 253.5 644 L243 698 Q241 712 243.5 724 Q246 740 252 749 Q254.5 752.5 260 755 L308 777 Q312 779 315.8 777.6"/>
<!-- rounded corner double -->
<path d="M320.5 671.8 Q315 676 311.5 686 Q303.5 710 302.3 735 Q301.8 757 308.2 772 L313.2 778.5"/>
<path d="M323.5 674 Q318.5 679 315.5 688 Q308 711 306.8 735 Q306.2 757 312 770 L316 777.5"/>
<!-- right face -->
<path d="M415.9 650.5 L415.9 718.3 L315.8 777.6"/>
<path d="M414 720.8 L317 778.5"/>
<!-- window -->
<path d="M261.5 663 L301.7 684.4 L294.1 728.3 L254 705.7 Z"/>
<path d="M263.5 667.5 L298 686.3 L291.5 724.3 L256.8 704.5 Z"/>
<path class="t" d="M263.5 667.5 L298 686.3"/>
<path d="M260.5 697 L264.5 691.5 L270.5 694.5 L271.5 699.5 Z M262 696 L270 698.5"/>
<path d="M277 706.5 L281 701 L287 704 L288 709.5 Z M278.5 705.5 L286.5 708.5"/>
<!-- bracket under roll -->
<path d="M268 757.6 L268 778.9 Q268.5 782 272 783.5 L276.8 783.9 L298.2 772.6"/>
<path d="M270 759 L270 778.5 L276 781.5"/>
<!-- foot beam top -->
<path d="M236.7 804 L273.1 783.9"/>
<path d="M401.1 736.2 L417.7 727"/>
<!-- foot cap -->
<path d="M212.8 819.1 L228 808.5 Q232 805 236 805.5 L240 806.5 M249.5 810 L253 809 Q256 807.5 259 809 L266.5 812.5 Q270.5 815 270.6 819.1 L271.5 841"/>
<ellipse cx="244.9" cy="811.3" rx="3.6" ry="3.3"/>
<path d="M241.5 812.5 L241.5 815 Q245 817.5 248.3 815 L248.3 812.5"/>
<path d="M212.8 819.1 L237.9 834.5 L270.6 819.1"/>
<path d="M212.8 819.1 L181.4 859.5 M237.9 834.5 Q236 838 234 841 L211 868.5"/>
<path d="M212 824.5 L233 837 Q235 838.5 233.5 841 L205.5 872.5 Q204 874 201.5 873 L182.5 862.5 Q180.5 861 182 858.5 Z"/>
<path class="t" d="M213.5 823.8 L234 836"/>
<path d="M172.6 864.3 L181.5 849.5 L184.5 851"/>
<path d="M166.4 869.3 Q166 866 169 865.2 L172.6 864.3 L200.3 879.3 L206 876 Q212 866.5 214.5 867 Q218 868 222.9 876.8 Q224.5 880 224.1 894.4 L205 902 Q200.5 903.5 198 902.5 L169 885 Q166 883 166.4 879 Z"/>
<path d="M172.6 864.3 L172.6 887"/>
<path d="M200.3 879.3 L200.3 902.5"/>
<path d="M224.1 894.4 L252 878.5"/>
<path d="M237.9 836.6 L224 874"/>
<!-- left caster -->
<ellipse cx="277.5" cy="868" rx="13.6" ry="17.2" transform="rotate(18 277.5 868)"/>
<ellipse cx="278.5" cy="868.5" rx="7.8" ry="10.8" transform="rotate(18 278.5 868.5)"/>
<path d="M268.5 852.5 Q260 858 260.3 871 Q261 882 268 885.5"/>
<path d="M266 853.5 Q257.5 859.5 257.8 872 Q258.5 881.5 263.5 884.5"/>
<path d="M258 861 L250 866 Q247.5 870 250 873.5 Q252.5 876 257.5 876.5"/>
<path d="M262 852 L262 846 Q262.5 843.5 265 844.5 L266 850 L277 844.5 L281.5 840 L283 843.5"/>
<path d="M283 843.5 L287.5 836.6"/>
</g>
<g class="art">
<!-- housing rounded corner arcs near main board -->
<path d="M583.9 269.6 Q590 266 597.5 267.3 Q606 270 611 275.6 Q617 282 620.5 292 Q623.5 302 623.8 313.3 L624.6 343.4"/>
<path d="M583.9 271.1 L600.5 280.1 Q607.5 285 611 292.2 Q614.5 299 615.6 305.7"/>
<!-- B lines along top of housing side -->
<path d="M583.5 274.6 L505 319.5"/>
<path d="M623.4 304.3 L660 283.2 L705.5 257.8"/>
<!-- main board bottom edge -->
<path stroke-width="0.9" d="M501.5 331.5 L634 408"/>
<!-- top A lines -->
<path d="M532.8 203.4 L585.5 236.9"/>
<path d="M527.6 206.7 L582.8 242.7"/>
<path d="M472 205.4 L584 268.8"/>
<path d="M498 209.3 L600 265.3 L612 272.5"/>
<path d="M517.2 211.1 L532.8 203.4"/>
<path d="M498 206.5 L503.5 200.5 L518.5 209 L513.5 215.5 Z"/>
<path d="M505 205 L510 207.5 M508 203.5 L513 206.5"/>
<!-- verticals near right edge -->
<path d="M624.6 343.4 Q625.5 352 630 358 Q633.5 364 631.5 372 Q629 380 622 384"/>
<path d="M626 345 Q627.5 352 632 358.5 Q636 366 633 375 Q630 384 624 388"/>
<path d="M628.6 376 L628.6 388 M632.6 376 L632.6 388"/>
<!-- triple curved line (housing side mid edge) -->
<path d="M410.8 525.5 L618.5 408.3 Q626 403 628.5 395 Q630.8 388 631.3 378"/>
<path d="M413 522 L617 406.8 Q624 402 626.5 394.5 Q628.5 388 629 380"/>
<path d="M489 483.5 L619.5 410 Q627.5 405 630.3 396.5"/>
<path d="M614.5 393.5 Q616 397.5 620 396.5 Q626.5 394 629.5 386.5 Q631 382 631.3 378"/>
<!-- connector bumps on main board right edge -->
<path d="M638.6 327 L643 326.5 Q646.5 329 646 334 Q645.5 339.5 642 341.5 L638.6 340"/>
<path d="M638.6 347 L644 346 Q647.5 349 647 354 Q646.5 359 643 361 L638.6 359.5"/>
<path d="M641 330 Q643.5 331 643 335 Q642.5 338 640.5 338.5"/>
<!-- right side of housing -->
<path d="M721.4 365 L721.4 391.8 Q721 394.5 718 396.5 L707.5 402.5"/>
<path d="M721.4 397 L721.4 422.5 L712.2 437 L712.2 443"/>
<path d="M698.8 406.9 L698.8 457.1 M700.3 406.9 Q700.5 405 702 404.5"/>
<path d="M712.2 410 L712.2 436" stroke="#666"/>
<!-- bottom dashed edge -->
<path stroke-width="1.4" stroke="#111" d="M640.6 496.7 L650.5 491.2 M655 488.8 L670 480.5 M675 477.7 L684.5 472.5 M689 470 L698.9 464.6"/>
<path d="M637 491.5 L637 498"/>
</g>
<g class="art" stroke-width="0.75" stroke="#3c3c3c">
<!-- frame -->
<path d="M449.7 232.7 L374.5 306 Q371.5 309.5 375.5 312.5 L419 335 Q424 337 427.5 333.5 L495.5 261"/>
<path d="M447.5 235.5 L377.5 304.5 Q375.5 307.5 378.5 309.5 L420.5 331.5 Q424.5 333.5 427.5 330.5 L493 261.5"/>
<path d="M445.5 238.5 L382 300.5"/>
<path d="M449.7 232.7 Q452 231.5 455 233 L459 235.3"/>
<path d="M374.5 313 L374.5 318 L384 323.5 L418 341.5 Q424 343.5 428.5 340 L431 337"/>
<path d="M427.5 333.5 L430 341"/>
<!-- connector block -->
<path d="M455 240.8 L461.8 234 Q463 233 465 234 L495 252.5 Q497 254.5 495.9 256 L491 261.5 Q489.5 262.5 487.5 261.5 L456 243 Q454 242 455 240.8 Z"/>
<path d="M458.5 240.5 L463.5 236 L492.5 254 L488.5 258.5 Z"/>
<path d="M489 262 L493 265 L497.5 260 L496 256"/>
<!-- white window -->
<path stroke-width="0.6" d="M462.4 248.8 L469.8 252.8 L465.1 258.2 L457.7 254.1 Z"/>
<!-- LCD -->
<path d="M429.5 266.5 Q431.5 264.5 434 266 L461.5 281.5 Q464 283 462 285.5 L441 308 Q439 310 436.5 308.5 L407 291.5 Q404.5 290 406.5 288 Z"/>
<!-- buttons -->
<g stroke-width="0.8">
<ellipse cx="446.4" cy="250.1" rx="5.8" ry="4.4" transform="rotate(25 446.4 250.1)"/>
<ellipse cx="446.6" cy="250" rx="3" ry="2.3" transform="rotate(25 446.6 250)"/>
<ellipse cx="437" cy="260.2" rx="5" ry="3.8" transform="rotate(25 437 260.2)"/>
<ellipse cx="437" cy="260" rx="2.4" ry="1.8"/>
<ellipse cx="453" cy="268.9" rx="5" ry="3.8" transform="rotate(25 453 268.9)"/>
<ellipse cx="453" cy="268.7" rx="2.4" ry="1.8"/>
<ellipse cx="478.5" cy="268.9" rx="5.4" ry="4" transform="rotate(25 478.5 268.9)"/>
<ellipse cx="478.5" cy="268.7" rx="2.4" ry="1.8"/>
<ellipse cx="467.8" cy="278.2" rx="5" ry="3.8" transform="rotate(25 467.8 278.2)"/>
<ellipse cx="467.8" cy="278" rx="2.4" ry="1.8"/>
<ellipse cx="400.8" cy="297" rx="4.6" ry="3.6" transform="rotate(25 400.8 297)"/>
<ellipse cx="400.8" cy="296.8" rx="2.2" ry="1.7"/>
<ellipse cx="388.1" cy="308.4" rx="5" ry="3.8" transform="rotate(25 388.1 308.4)"/>
<ellipse cx="388.1" cy="308.2" rx="2.4" ry="1.8"/>
<ellipse cx="420.9" cy="326.4" rx="5" ry="3.8" transform="rotate(25 420.9 326.4)"/>
<ellipse cx="420.9" cy="326.2" rx="2.4" ry="1.8"/>
<circle cx="417" cy="301.5" r="2.6"/>
<circle cx="401.5" cy="305" r="2"/>
</g>
<!-- joystick -->
<path d="M408.5 300.5 Q410.5 299 413 300.5 L423.5 307 Q426 309 424 311.5 L413.5 323 Q411.5 325 409 323.5 L397 316 Q394.5 314 396.5 311.5 Z"/>
<path class="t" stroke-width="1.6" d="M409 305.5 L415.5 309 Q416.5 310 415.8 311.2 L412 316 Q411 317 409.8 316.3 L404.5 313 Q403.3 312 404.3 310.8 L408 305.8 Z"/>
<path class="t" d="M423.5 312.5 L413.5 323.5"/>
<!-- right side lines -->
<path d="M493 265 L501.5 262.5 L520 282"/>
<path d="M453 332.2 L527 291"/>
<path d="M457.1 343.2 L583 272.5"/>
</g>
<g>
<path class="halo" d="M323.8 -3 L256.3 86"/>
<path class="halo" d="M399.3 321.6 L140 650"/>
<path class="halo" d="M443.2 317.5 L600 737"/>
<path class="halo" d="M632.3 315.4 L836 210"/>
<path class="halo" d="M592.2 328.2 L812 282.4"/>
<path class="halo" d="M588.2 374.7 L817 351.4"/>
<path class="halo" d="M702.9 404.7 L861 393.1"/>
<path class="halo" d="M705.9 447.5 L868 433.2"/>
<path class="halo" d="M684.2 457.6 L855 497.5"/>
<path class="halo" d="M645 462.9 L805 535"/>
<path class="halo" d="M644 479.9 L790.5 587"/>
<path class="halo" d="M629 495 L761 629.8"/>
</g>
<rect x="237.5" y="178.3" width="261.9" height="184.95" rx="3" ry="3" fill="none" stroke="#ff1a10" stroke-width="4.6"/>
<rect x="513.7" y="772.4" width="218.05" height="71.95" rx="3" ry="3" fill="none" stroke="#ff1a10" stroke-width="4.5"/>
<g>
<path class="red" d="M323.8 -3 L256.1 86.2"/>
<!-- (8) -->
<path class="red" d="M399.5 321.3 L138.2 652"/>
<!-- Panel Board -->
<path class="blk" d="M443 317 L618.5 787"/>
<!-- Main Board -->
<path class="blk" stroke-width="2.2" d="M631.9 315.6 L838 209"/>
<!-- (5) -->
<path class="red" d="M591.9 328.2 L814 282"/>
<!-- (4) -->
<path class="red" d="M587.9 374.8 L819 351.2"/>
<!-- PSH upper -->
<path class="blk" d="M702.5 404.8 L863 393"/>
<!-- PSH lower -->
<path class="blk" d="M705.5 447.6 L870 433"/>
<!-- SUB-C -->
<path class="blk" d="M683.8 457.5 L857 498"/>
<!-- (3) -->
<path class="red" d="M644.6 462.7 L807 536"/>
<!-- (2) -->
<path class="red" d="M643.6 479.6 L792.7 588.5"/>
<!-- (1) -->
<path class="red" d="M628.6 494.7 L762.8 631.7"/>
</g>
<g>
<text class="lbl" x="849.5" y="217">Main Board</text>
<text class="lbl" x="870" y="400">PSH Board (upper)</text>
<text class="lbl" x="875" y="442">PSH Board (lower)</text>
<text class="lbl" x="870" y="502.6">SUB-C Board</text>
<text class="lbl" x="544.3" y="819.6">Panel Board</text>
<text class="num" x="822.2" y="290.4"><tspan dy="-3.2">(</tspan><tspan class="d" dy="3.2" dx="-0.45">5</tspan><tspan dy="-3.2" dx="0.8">)</tspan></text>
<text class="num" x="826.3" y="360.4"><tspan dy="-3.2">(</tspan><tspan class="d" dy="3.2" dx="-0.45">4</tspan><tspan dy="-3.2" dx="0.8">)</tspan></text>
<text class="num" x="811.5" y="556.1"><tspan dy="-3.2">(</tspan><tspan class="d" dy="3.2" dx="-0.45">3</tspan><tspan dy="-3.2" dx="0.8">)</tspan></text>
<text class="num" x="796.8" y="607.7"><tspan dy="-3.2">(</tspan><tspan class="d" dy="3.2" dx="-0.45">2</tspan><tspan dy="-3.2" dx="0.8">)</tspan></text>
<text class="num" x="767.0" y="650.9"><tspan dy="-3.2">(</tspan><tspan class="d" dy="3.2" dx="-0.45">1</tspan><tspan dy="-3.2" dx="0.8">)</tspan></text>
<text class="num" x="96.2" y="675.3"><tspan dy="-3.2">(</tspan><tspan class="d" dy="3.2" dx="-0.45">8</tspan><tspan dy="-3.2" dx="0.8">)</tspan></text>
</g>
<rect x="956" y="607" width="12" height="4" fill="#4c5e6a"/>
</svg>
</body>
</html>
